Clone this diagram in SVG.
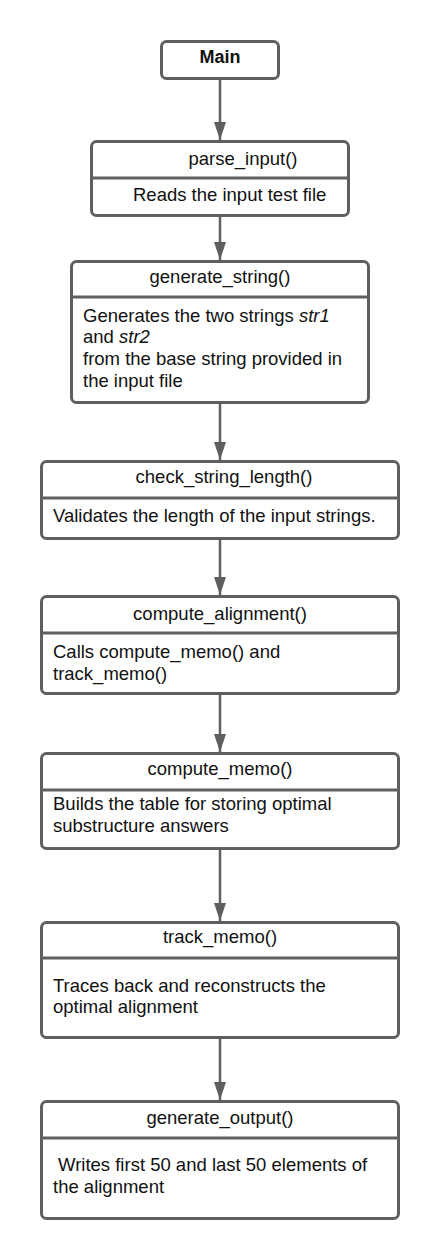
<svg xmlns="http://www.w3.org/2000/svg" width="440" height="1260" viewBox="0 0 440 1260">
<style>
.box{fill:#fff;stroke:#5f5f5f;stroke-width:3}
.div{stroke:#5f5f5f;stroke-width:3}
.t{font-family:"Liberation Sans",Arial,sans-serif;font-size:18.5px;fill:#111}
.c{text-anchor:middle}
.b{font-weight:bold;font-size:18px}
.conn{stroke:#5f5f5f;stroke-width:2.5;fill:none}
</style>
<defs>
<marker id="ah" viewBox="0 0 18 12" refX="18" refY="6" markerUnits="userSpaceOnUse" markerWidth="18" markerHeight="12" orient="auto">
<path d="M0,0 L18,6 L0,12 Z" fill="#5f5f5f"/>
</marker>
</defs>
<rect width="440" height="1260" fill="#fff"/>
<g id="connectors">
<line class="conn" x1="220" y1="80" x2="220" y2="140" marker-end="url(#ah)"/>
<line class="conn" x1="220" y1="217" x2="220" y2="260" marker-end="url(#ah)"/>
<line class="conn" x1="220" y1="404" x2="220" y2="460" marker-end="url(#ah)"/>
<line class="conn" x1="220" y1="540" x2="220" y2="595" marker-end="url(#ah)"/>
<line class="conn" x1="220" y1="695" x2="220" y2="752" marker-end="url(#ah)"/>
<line class="conn" x1="220" y1="850" x2="220" y2="921" marker-end="url(#ah)"/>
<line class="conn" x1="220" y1="1039" x2="220" y2="1100" marker-end="url(#ah)"/>
</g>
<g id="main">
<rect class="box" x="161.5" y="41.5" width="117" height="37" rx="5"/>
<text class="t c b" x="220" y="63">Main</text>
</g>
<g id="parse_input">
<rect class="box" x="91.5" y="141.5" width="257" height="74" rx="5"/>
<line class="div" x1="91.5" y1="178" x2="348.5" y2="178"/>
<text class="t c" x="243" y="165">parse_input()</text>
<text class="t" x="133" y="201">Reads the input test file</text>
</g>
<g id="generate_string">
<rect class="box" x="71.5" y="261.5" width="297" height="141" rx="5"/>
<line class="div" x1="71.5" y1="297" x2="368.5" y2="297"/>
<text class="t c" x="220" y="283">generate_string()</text>
<text class="t" x="83" y="322">Generates the two strings <tspan font-style="italic">str1</tspan></text>
<text class="t" x="83" y="343">and <tspan font-style="italic">str2</tspan></text>
<text class="t" x="83" y="365">from the base string provided in</text>
<text class="t" x="83" y="387">the input file</text>
</g>
<g id="check_string_length">
<rect class="box" x="41.5" y="461.5" width="357" height="77" rx="5"/>
<line class="div" x1="41.5" y1="498" x2="398.5" y2="498"/>
<text class="t c" x="224" y="483">check_string_length()</text>
<text class="t" x="53" y="522">Validates the length of the input strings.</text>
</g>
<g id="compute_alignment">
<rect class="box" x="41.5" y="596.5" width="357" height="97" rx="5"/>
<line class="div" x1="41.5" y1="633" x2="398.5" y2="633"/>
<text class="t c" x="220" y="620">compute_alignment()</text>
<text class="t" x="53" y="658">Calls compute_memo() and</text>
<text class="t" x="53" y="680">track_memo()</text>
</g>
<g id="compute_memo">
<rect class="box" x="41.5" y="753.5" width="357" height="95" rx="5"/>
<line class="div" x1="41.5" y1="790" x2="398.5" y2="790"/>
<text class="t c" x="220" y="775">compute_memo()</text>
<text class="t" x="53" y="810">Builds the table for storing optimal</text>
<text class="t" x="53" y="832">substructure answers</text>
</g>
<g id="track_memo">
<rect class="box" x="41.5" y="922.5" width="357" height="115" rx="5"/>
<line class="div" x1="41.5" y1="958" x2="398.5" y2="958"/>
<text class="t c" x="220" y="943">track_memo()</text>
<text class="t" x="53" y="992">Traces back and reconstructs the</text>
<text class="t" x="53" y="1013">optimal alignment</text>
</g>
<g id="generate_output">
<rect class="box" x="41.5" y="1101.5" width="357" height="117" rx="5"/>
<line class="div" x1="41.5" y1="1138" x2="398.5" y2="1138"/>
<text class="t c" x="220" y="1124">generate_output()</text>
<text class="t" x="58" y="1171">Writes first 50 and last 50 elements of</text>
<text class="t" x="53" y="1193">the alignment</text>
</g>
</svg>
